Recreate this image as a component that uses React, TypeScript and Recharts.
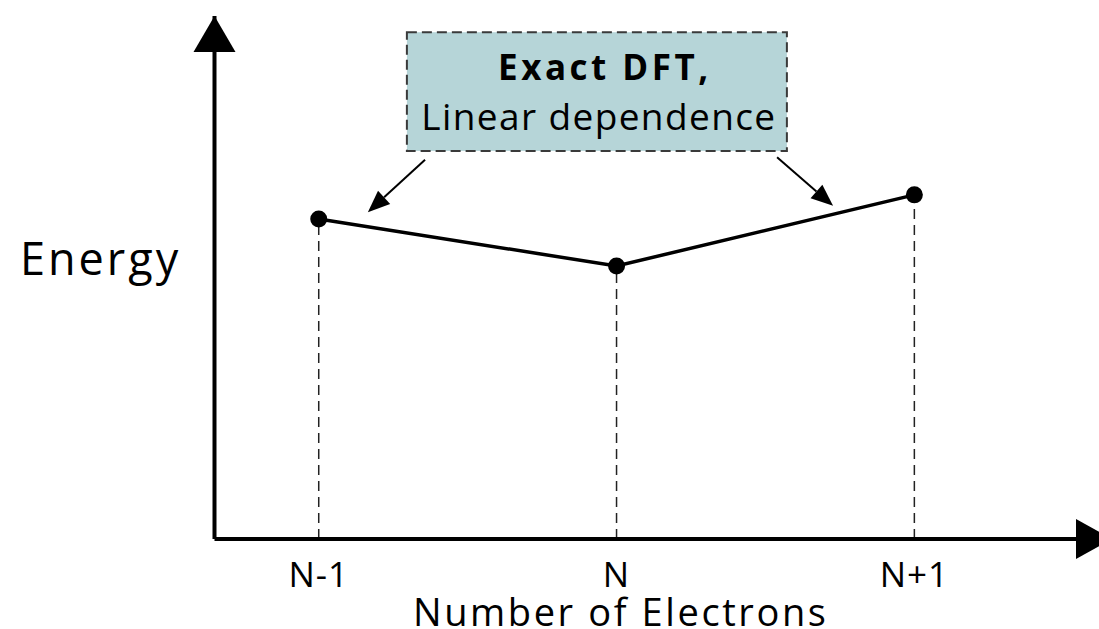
import {
  LineChart,
  Line,
  XAxis,
  YAxis,
  ReferenceLine,
  ReferenceDot,
  ReferenceArea,
} from "recharts";

const FONT = "'Open Sans', 'Noto Sans', sans-serif";

// x categories and their positions on the electron-count axis
const categories = ["N-1", "N", "N+1"];
const electronCount = [1, 2, 3];
// energy (arbitrary units, 0..10)
const energy = [6.12, 5.22, 6.58];

const data = categories.map((label, i) => ({
  label,
  x: electronCount[i],
  energy: energy[i],
}));

const X_DOMAIN: [number, number] = [0.65, 3.62];
const Y_DOMAIN: [number, number] = [0, 10];

// callout box and its two arrows, in data units
const calloutBox = { x1: 1.296, x2: 2.572, y1: 7.42, y2: 9.69 };
const calloutArrows = [
  [{ x: 1.357, y: 7.25 }, { x: 1.165, y: 6.25 }],
  [{ x: 2.539, y: 7.3 }, { x: 2.727, y: 6.37 }],
];

const renderTick = (props: any) => {
  const { x, y, payload } = props;
  const idx = electronCount.indexOf(payload.value);
  return (
    <text
      x={x}
      y={y + 48}
      textAnchor="middle"
      fontSize={35}
      letterSpacing={1}
      fontFamily={FONT}
      fill="#000"
    >
      {categories[idx]}
    </text>
  );
};

const ArrowLine = (props: any) => {
  const { x1, y1, x2, y2 } = props;
  const dx = x2 - x1;
  const dy = y2 - y1;
  const len = Math.sqrt(dx * dx + dy * dy);
  const ux = dx / len;
  const uy = dy / len;
  const head = 22;
  const half = 9;
  const bx = x2 - ux * head;
  const by = y2 - uy * head;
  return (
    <g>
      <line x1={x1} y1={y1} x2={bx} y2={by} stroke="#000" strokeWidth={2} />
      <polygon
        points={`${x2},${y2} ${bx - uy * half},${by + ux * half} ${bx + uy * half},${by - ux * half}`}
        fill="#000"
      />
    </g>
  );
};

const CalloutBox = (props: any) => {
  const { x, y, width, height } = props;
  const cx = x + width / 2;
  return (
    <g>
      <rect
        x={x}
        y={y}
        width={width}
        height={height}
        fill="#b6d5d8"
        stroke="#3a3a3a"
        strokeWidth={2}
        strokeDasharray="10 5"
      />
      <text
        x={cx + 8}
        y={y + 48}
        textAnchor="middle"
        fontSize={35}
        letterSpacing={3.5}
        fontWeight="bold"
        fontFamily={FONT}
        fill="#000"
      >
        Exact DFT,
      </text>
      <text
        x={cx + 2}
        y={y + 98}
        textAnchor="middle"
        fontSize={37}
        letterSpacing={1.4}
        fontFamily={FONT}
        fill="#000"
      >
        Linear dependence
      </text>
    </g>
  );
};

export default function App() {
  return (
    <div style={{ position: "absolute", left: 0, top: 0, background: "#fff" }}>
      <LineChart
        width={1099}
        height={629}
        data={data}
        margin={{ top: 16, right: 0, left: 0, bottom: 0 }}
      >
        <XAxis
          dataKey="x"
          type="number"
          domain={X_DOMAIN}
          allowDataOverflow
          ticks={electronCount}
          tick={renderTick}
          tickLine={false}
          tickSize={0}
          tickMargin={0}
          height={90}
          axisLine={{ stroke: "#000", strokeWidth: 4 }}
          label={{
            value: "Number of Electrons",
            position: "insideBottom",
            offset: 3,
            dx: -36,
            fontSize: 38,
            letterSpacing: 2.6,
            fontFamily: FONT,
            fill: "#000",
          }}
        />
        <YAxis
          type="number"
          domain={Y_DOMAIN}
          allowDataOverflow
          tick={false}
          tickLine={false}
          width={214.5}
          axisLine={{ stroke: "#000", strokeWidth: 4 }}
          label={{
            value: "Energy",
            position: "insideLeft",
            offset: 20,
            dy: -18.5,
            fontSize: 45,
            letterSpacing: 3,
            fontFamily: FONT,
            fill: "#000",
          }}
        />
        {data.map((d) => (
          <ReferenceLine
            key={d.label}
            segment={[
              { x: d.x, y: 0 },
              { x: d.x, y: d.energy },
            ]}
            stroke="#222"
            strokeWidth={1.5}
            strokeDasharray="10 6"
            ifOverflow="visible"
          />
        ))}
        <ReferenceArea
          x1={calloutBox.x1}
          x2={calloutBox.x2}
          y1={calloutBox.y1}
          y2={calloutBox.y2}
          ifOverflow="visible"
          shape={(p: any) => <CalloutBox {...p} />}
        />
        {calloutArrows.map((seg, i) => (
          <ReferenceLine
            key={i}
            segment={seg}
            ifOverflow="visible"
            shape={(p: any) => <ArrowLine {...p} />}
          />
        ))}
        <Line
          type="linear"
          dataKey="energy"
          stroke="#000"
          strokeWidth={3.5}
          dot={{ r: 8.5, fill: "#000", stroke: "#000", strokeWidth: 0 }}
          activeDot={false}
          isAnimationActive={false}
        />
        <ReferenceDot
          x={X_DOMAIN[0]}
          y={Y_DOMAIN[1]}
          ifOverflow="visible"
          shape={(p: any) => (
            <polygon
              points={`${p.cx},${p.cy} ${p.cx - 21},${p.cy + 36} ${p.cx + 21},${p.cy + 36}`}
              fill="#000"
            />
          )}
        />
        <ReferenceDot
          x={X_DOMAIN[1]}
          y={Y_DOMAIN[0]}
          ifOverflow="visible"
          shape={(p: any) => (
            <polygon
              points={`${p.cx + 13},${p.cy} ${p.cx - 23},${p.cy - 20} ${p.cx - 23},${p.cy + 20}`}
              fill="#000"
            />
          )}
        />
      </LineChart>
    </div>
  );
}
